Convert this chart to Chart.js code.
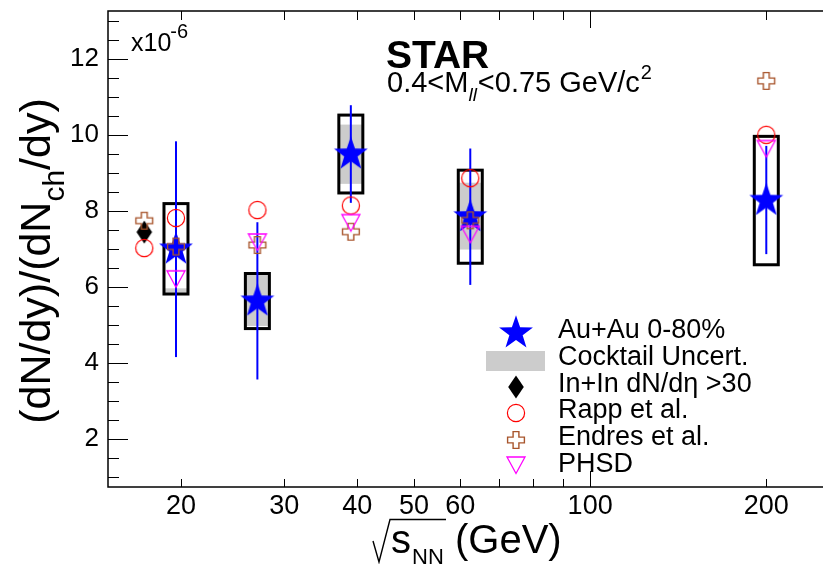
<!DOCTYPE html>
<html><head><meta charset="utf-8">
<script src="https://cdn.jsdelivr.net/npm/chart.js@4/dist/chart.umd.min.js"></script>
<style>html,body{margin:0;padding:0;background:#fff;overflow:hidden}#wrap{width:823px;height:564px;position:relative}</style>
</head><body><div id="wrap"><canvas id="c" width="823" height="564"></canvas></div>
<script>
// ---------- data ----------
const energies = [19.6, 27, 39, 62.4, 200];
const auauYield = [7.0, 5.63, 9.5, 7.85, 8.28];
const statLow = [4.16, 3.57, 8.22, 6.06, 6.87];
const statHigh = [9.84, 7.71, 10.79, 9.65, 9.72];
const sysLow = [5.82, 4.91, 8.48, 6.63, 6.59];
const sysHigh = [8.2, 6.36, 10.53, 9.08, 9.97];
const cocktailLow = [5.85, 4.98, 8.72, 6.99, null];
const cocktailHigh = [5.97, 6.33, 10.28, 8.75, null];
const ininEnergy = [17.3];
const ininYield = [7.45];
const modelEnergies = [17.3, 19.6, 27, 39, 62.4, 200];
const rappYield = [7.03, 7.82, 8.03, 8.15, 8.87, 10.01];
const endresYield = [7.75, 7.07, 7.11, 7.46, 7.76, 11.43];
const phsdEnergies = [19.6, 27, 39, 62.4, 200];
const phsdYield = [6.22, 7.19, 7.70, 7.39, 9.65];
const xTickLabels = [20, 30, 40, 50, 60, 100, 200];
const xMinorTicks = [70, 80, 90];
const xDecadeTick = 100;
const yTickLabels = [2, 4, 6, 8, 10, 12];
const legendLabels = ['Au+Au 0-80%', 'Cocktail Uncert.', 'In+In dN/d\u03B7 >30', 'Rapp et al.', 'Endres et al.', 'PHSD'];

// ---------- styling ----------
const FONT = "'Liberation Sans', Arial, Helvetica, sans-serif";
const BLUE = '#0000ff', RED = '#ff0000', BROWN = '#a8552c', MAGENTA = '#ff00ff', GRAY = '#cccccc';

function makeMarker(w, h, draw) {
  const c = document.createElement('canvas');
  c.width = w; c.height = h;
  const g = c.getContext('2d');
  draw(g, w / 2, h / 2);
  return c;
}
const starImg = makeMarker(38, 38, (g, cx, cy) => {
  const R = 17.8, r = 7.0;
  g.beginPath();
  for (let k = 0; k < 10; k++) {
    const a = -Math.PI / 2 + k * Math.PI / 5;
    const rr = k % 2 === 0 ? R : r;
    const px = cx + rr * Math.cos(a), py = cy + rr * Math.sin(a);
    k === 0 ? g.moveTo(px, py) : g.lineTo(px, py);
  }
  g.closePath(); g.fillStyle = BLUE; g.fill();
});
const diamondImg = makeMarker(18, 26, (g, cx, cy) => {
  g.beginPath(); g.moveTo(cx, cy - 11.5); g.lineTo(cx + 7.8, cy); g.lineTo(cx, cy + 11.5); g.lineTo(cx - 7.8, cy);
  g.closePath(); g.fillStyle = '#000'; g.fill();
});
const circleImg = makeMarker(22, 22, (g, cx, cy) => {
  g.beginPath(); g.arc(cx, cy, 8.6, 0, Math.PI * 2); g.strokeStyle = RED; g.lineWidth = 1.2; g.stroke();
});
const crossImg = makeMarker(22, 22, (g, cx, cy) => {
  const h = 8.4, a = 2.9;
  const pts = [[-a,-h],[a,-h],[a,-a],[h,-a],[h,a],[a,a],[a,h],[-a,h],[-a,a],[-h,a],[-h,-a],[-a,-a]];
  g.beginPath(); pts.forEach((p, i) => i ? g.lineTo(cx + p[0], cy + p[1]) : g.moveTo(cx + p[0], cy + p[1]));
  g.closePath(); g.strokeStyle = BROWN; g.lineWidth = 1.4; g.stroke();
});
const triImg = makeMarker(22, 20, (g, cx, cy) => {
  g.beginPath(); g.moveTo(cx - 9, cy - 8); g.lineTo(cx + 9, cy - 8); g.lineTo(cx, cy + 8.5);
  g.closePath(); g.strokeStyle = MAGENTA; g.lineWidth = 1.3; g.stroke();
});

const pts = (xs, ys) => xs.map((v, i) => ({ x: v, y: ys[i] }));
const noPad = s => { s.paddingTop = 0; s.paddingBottom = 0; s.paddingLeft = 0; s.paddingRight = 0; };

const decor = {
  id: 'decor',
  beforeDatasetsDraw(chart) {
    const { ctx, scales: { x, y } } = chart;
    const hw = 12;
    ctx.save();
    energies.forEach((e, i) => {
      const px = x.getPixelForValue(e);
      if (cocktailLow[i] != null) {
        const t = y.getPixelForValue(cocktailHigh[i]), b = y.getPixelForValue(cocktailLow[i]);
        ctx.fillStyle = GRAY; ctx.fillRect(px - hw, t, 2 * hw, b - t);
      }
      const t = y.getPixelForValue(sysHigh[i]), b = y.getPixelForValue(sysLow[i]);
      ctx.strokeStyle = '#000'; ctx.lineWidth = 3; ctx.strokeRect(px - hw, t, 2 * hw, b - t);
      ctx.strokeStyle = BLUE; ctx.lineWidth = 2;
      ctx.beginPath(); ctx.moveTo(px, y.getPixelForValue(statHigh[i])); ctx.lineTo(px, y.getPixelForValue(statLow[i])); ctx.stroke();
    });
    ctx.restore();
  },
  afterDraw(chart) {
    const { ctx, chartArea: ca, scales: { x, y } } = chart;
    ctx.save();
    // frame
    ctx.strokeStyle = '#000'; ctx.lineWidth = 1.5;
    ctx.strokeRect(ca.left, ca.top, ca.right - ca.left + 2, ca.bottom - ca.top);
    // y ticks (inside)
    ctx.lineWidth = 1;
    for (let v = 1; v <= 13.001; v += 0.5) {
      const py = Math.round(y.getPixelForValue(v)) + 0.5;
      const major = yTickLabels.includes(v);
      ctx.beginPath(); ctx.moveTo(ca.left, py); ctx.lineTo(ca.left + (major ? 20 : 11), py); ctx.stroke();
    }
    // x ticks (inside, bottom and top)
    xTickLabels.concat(xMinorTicks).forEach(v => {
      const px = Math.round(x.getPixelForValue(v)) + 0.5;
      const long = v === xDecadeTick;
      ctx.beginPath(); ctx.moveTo(px, ca.bottom); ctx.lineTo(px, ca.bottom - (long ? 16 : 8)); ctx.stroke();
      ctx.beginPath(); ctx.moveTo(px, ca.top); ctx.lineTo(px, ca.top + (long ? 17 : 9)); ctx.stroke();
    });
    ctx.fillStyle = '#000'; ctx.textAlign = 'left'; ctx.textBaseline = 'alphabetic';
    // x10^-6
    ctx.font = `25px ${FONT}`; ctx.fillText('x10', 131, 51);
    const wx = ctx.measureText('x10').width;
    ctx.font = `20px ${FONT}`; ctx.fillText('-6', 131 + wx - 1, 38);
    // STAR
    ctx.font = `bold 39px ${FONT}`; ctx.fillText('STAR', 386, 68);
    // mass range
    let cx = 387;
    ctx.font = `29px ${FONT}`; ctx.fillText('0.4<M', cx, 92); cx += ctx.measureText('0.4<M').width;
    ctx.font = `italic 19px ${FONT}`; ctx.fillText('ll', cx, 101); cx += ctx.measureText('ll').width + 1;
    ctx.font = `29px ${FONT}`; ctx.fillText('<0.75 GeV/c', cx, 92); cx += ctx.measureText('<0.75 GeV/c').width;
    ctx.font = `20px ${FONT}`; ctx.fillText('2', cx + 1, 79);
    // y title
    ctx.save(); ctx.translate(50, 261); ctx.rotate(-Math.PI / 2);
    ctx.font = `43px ${FONT}`; const w1 = ctx.measureText('(dN/dy)/(dN').width, w3 = ctx.measureText('/dy)').width;
    ctx.font = `30px ${FONT}`; const w2 = ctx.measureText('ch').width;
    let sx = -(w1 + w2 + w3) / 2;
    ctx.font = `43px ${FONT}`; ctx.fillText('(dN/dy)/(dN', sx, 0);
    ctx.font = `30px ${FONT}`; ctx.fillText('ch', sx + w1, 14);
    ctx.font = `43px ${FONT}`; ctx.fillText('/dy)', sx + w1 + w2, 0);
    ctx.restore();
    // x title
    ctx.font = `40px ${FONT}`; ctx.fillText('s', 391, 553);
    ctx.font = `22px ${FONT}`; ctx.fillText('NN', 412, 564);
    ctx.font = `40px ${FONT}`; ctx.fillText('(GeV)', 455, 553);
    ctx.lineWidth = 1.4; ctx.beginPath();
    ctx.moveTo(373, 541); ctx.lineTo(379, 562); ctx.lineTo(390, 519.5); ctx.lineTo(446, 519.5); ctx.stroke();
    // legend
    const lx = 516, tx = 558, base0 = 338.3, step = 26.7;
    const markers = [starImg, null, diamondImg, circleImg, crossImg, triImg];
    const moff = [5.6, 0, 5, 5.1, 5.1, 6.8];
    legendLabels.forEach((lab, i) => {
      const b = base0 + i * step;
      if (markers[i]) {
        const m = markers[i];
        ctx.drawImage(m, Math.round(lx - m.width / 2), Math.round(b - moff[i] - m.height / 2));
      } else {
        ctx.fillStyle = GRAY; ctx.fillRect(486, 351, 59, 20);
      }
      ctx.fillStyle = '#000'; ctx.font = `27px ${FONT}`; ctx.fillText(lab, tx, b);
    });
    ctx.restore();
  }
};

new Chart(document.getElementById('c'), {
  type: 'scatter',
  data: {
    datasets: [
      { label: 'Au+Au 0-80%', data: pts(energies, auauYield), pointStyle: starImg, pointRadius: 8, order: 5 },
      { label: 'In+In', data: pts(ininEnergy, ininYield), pointStyle: diamondImg, pointRadius: 8, order: 4 },
      { label: 'Rapp et al.', data: pts(modelEnergies, rappYield), pointStyle: circleImg, pointRadius: 8, order: 3 },
      { label: 'Endres et al.', data: pts(modelEnergies, endresYield), pointStyle: crossImg, pointRadius: 8, order: 2 },
      { label: 'PHSD', data: pts(phsdEnergies, phsdYield), pointStyle: triImg, pointRadius: 8, order: 1 }
    ]
  },
  options: {
    responsive: false, animation: false, events: [],
    layout: { autoPadding: false, padding: { left: 0, right: 0, top: 11, bottom: 0 } },
    plugins: { legend: { display: false }, tooltip: { enabled: false } },
    scales: {
      x: {
        type: 'logarithmic', min: 15, max: 250,
        grid: { display: false, drawTicks: false }, border: { display: false },
        afterBuildTicks: s => { s.ticks = xTickLabels.map(v => ({ value: v })); },
        afterFit: s => { s.height = 77; noPad(s); },
        ticks: { autoSkip: false, maxRotation: 0, minRotation: 0, padding: 3, color: '#000',
          font: { family: FONT, size: 27 }, callback: v => String(v) }
      },
      y: {
        type: 'linear', min: 0.74, max: 13.27,
        grid: { display: false, drawTicks: false }, border: { display: false },
        afterBuildTicks: s => { s.ticks = yTickLabels.map(v => ({ value: v })); },
        afterFit: s => { s.width = 108; noPad(s); },
        ticks: { autoSkip: false, padding: 9, color: '#000', font: { family: FONT, size: 26 }, callback: v => String(v) }
      }
    }
  },
  plugins: [decor]
});
</script></body></html>
